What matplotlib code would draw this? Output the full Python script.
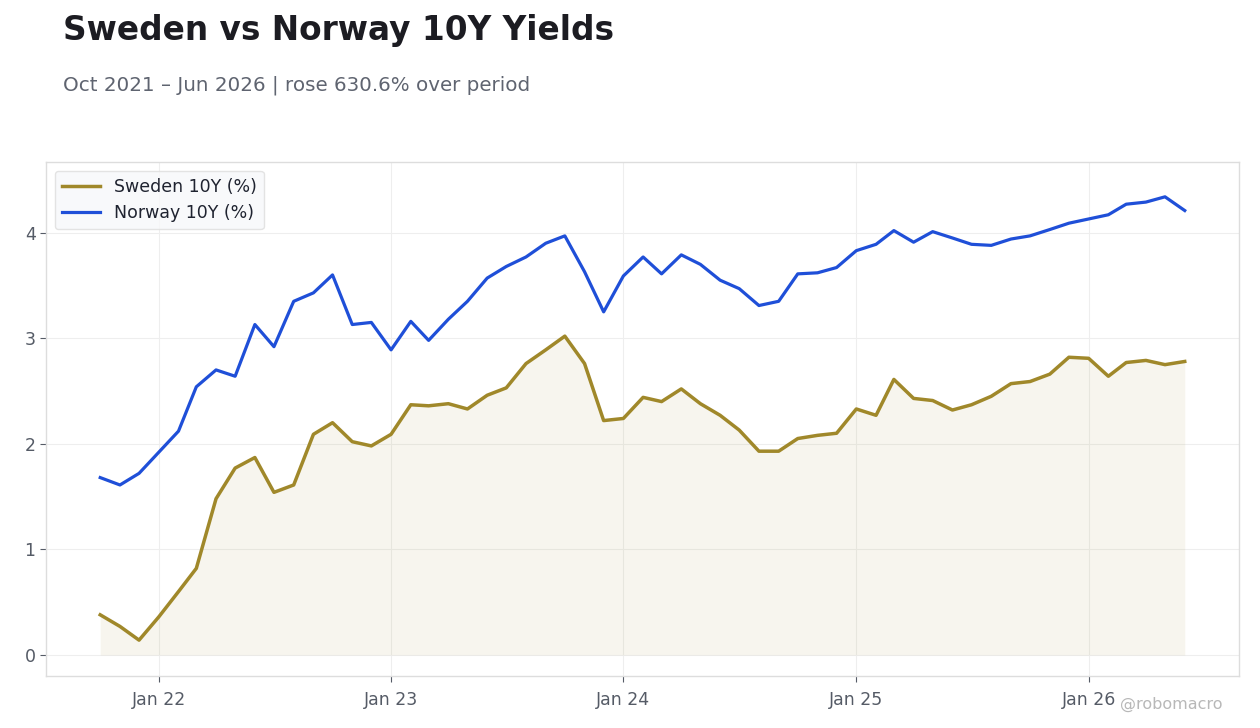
import matplotlib
matplotlib.use("Agg")
import matplotlib.pyplot as plt
import matplotlib.dates as mdates
import pandas as pd

plt.rcParams['font.family'] = ['DejaVu Sans']

# monthly observations, Oct 2021 .. Jun 2026
months = pd.date_range('2021-10-01', '2026-06-01', freq='MS')

sweden = [0.38, 0.27, 0.14, 0.36, 0.60, 0.82, 1.48, 1.77, 1.87, 1.54, 1.61, 2.09,
          2.20, 2.02, 1.98, 2.09, 2.37, 2.36, 2.38, 2.33, 2.46, 2.53, 2.76, 2.89,
          3.02, 2.76, 2.22, 2.24, 2.44, 2.40, 2.52, 2.38, 2.27, 2.13, 1.93, 1.93,
          2.05, 2.08, 2.10, 2.33, 2.27, 2.61, 2.43, 2.41, 2.32, 2.37, 2.45, 2.57,
          2.59, 2.66, 2.82, 2.81, 2.64, 2.77, 2.79, 2.75, 2.78]

norway = [1.68, 1.61, 1.72, 1.92, 2.12, 2.54, 2.70, 2.64, 3.13, 2.92, 3.35, 3.43,
          3.60, 3.13, 3.15, 2.89, 3.16, 2.98, 3.18, 3.35, 3.57, 3.68, 3.77, 3.90,
          3.97, 3.63, 3.25, 3.59, 3.77, 3.61, 3.79, 3.70, 3.55, 3.47, 3.31, 3.35,
          3.61, 3.62, 3.67, 3.83, 3.89, 4.02, 3.91, 4.01, 3.95, 3.89, 3.88, 3.94,
          3.97, 4.03, 4.09, 4.13, 4.17, 4.27, 4.29, 4.34, 4.21]

title = 'Sweden vs Norway 10Y Yields'
subtitle = 'Oct 2021 \u2013 Jun 2026 | rose 630.6% over period'

sweden_color = '#a0882a'
norway_color = '#1f4fd8'

fig = plt.figure(figsize=(12.6, 7.28), dpi=100)
fig.patch.set_facecolor('white')
ax = fig.add_axes([0.0365, 0.0714, 0.9468, 0.7061])

ax.fill_between(months, 0, sweden, color=sweden_color, alpha=0.08, linewidth=0)
ax.plot(months, sweden, color=sweden_color, linewidth=2.5, label='Sweden 10Y (%)')
ax.plot(months, norway, color=norway_color, linewidth=2.3, label='Norway 10Y (%)')

ax.set_ylim(-0.2, 4.67)
ax.set_yticks([0, 1, 2, 3, 4])
ax.xaxis.set_major_locator(mdates.YearLocator())
ax.xaxis.set_major_formatter(mdates.DateFormatter('Jan %y'))

ax.grid(True, color='#eeeeee', linewidth=0.8)
ax.set_axisbelow(True)
for s in ax.spines.values():
    s.set_color('#dddddd')
    s.set_linewidth(1.0)
ax.tick_params(colors='#555b66', labelsize=12.5, length=4, width=0.8)
ax.tick_params(axis='x', pad=7)

le = ax.legend(loc='upper left', fontsize=12.5, frameon=True, handlelength=2.2)
le.get_frame().set_facecolor('#f7f8fa')
le.get_frame().set_edgecolor('#dddddd')
for t in le.get_texts():
    t.set_color('#1f2330')

fig.text(0.05, 0.958, title, fontsize=23.6, fontweight='bold', color='#1c1c22', va='center')
fig.text(0.05, 0.883, subtitle, fontsize=14.3, color='#5f6470', va='center')
fig.text(0.97, 0.032, '@robomacro', fontsize=11.5, color='#b8b8b8', ha='right', va='center')

fig.savefig('out.png', dpi=100)
